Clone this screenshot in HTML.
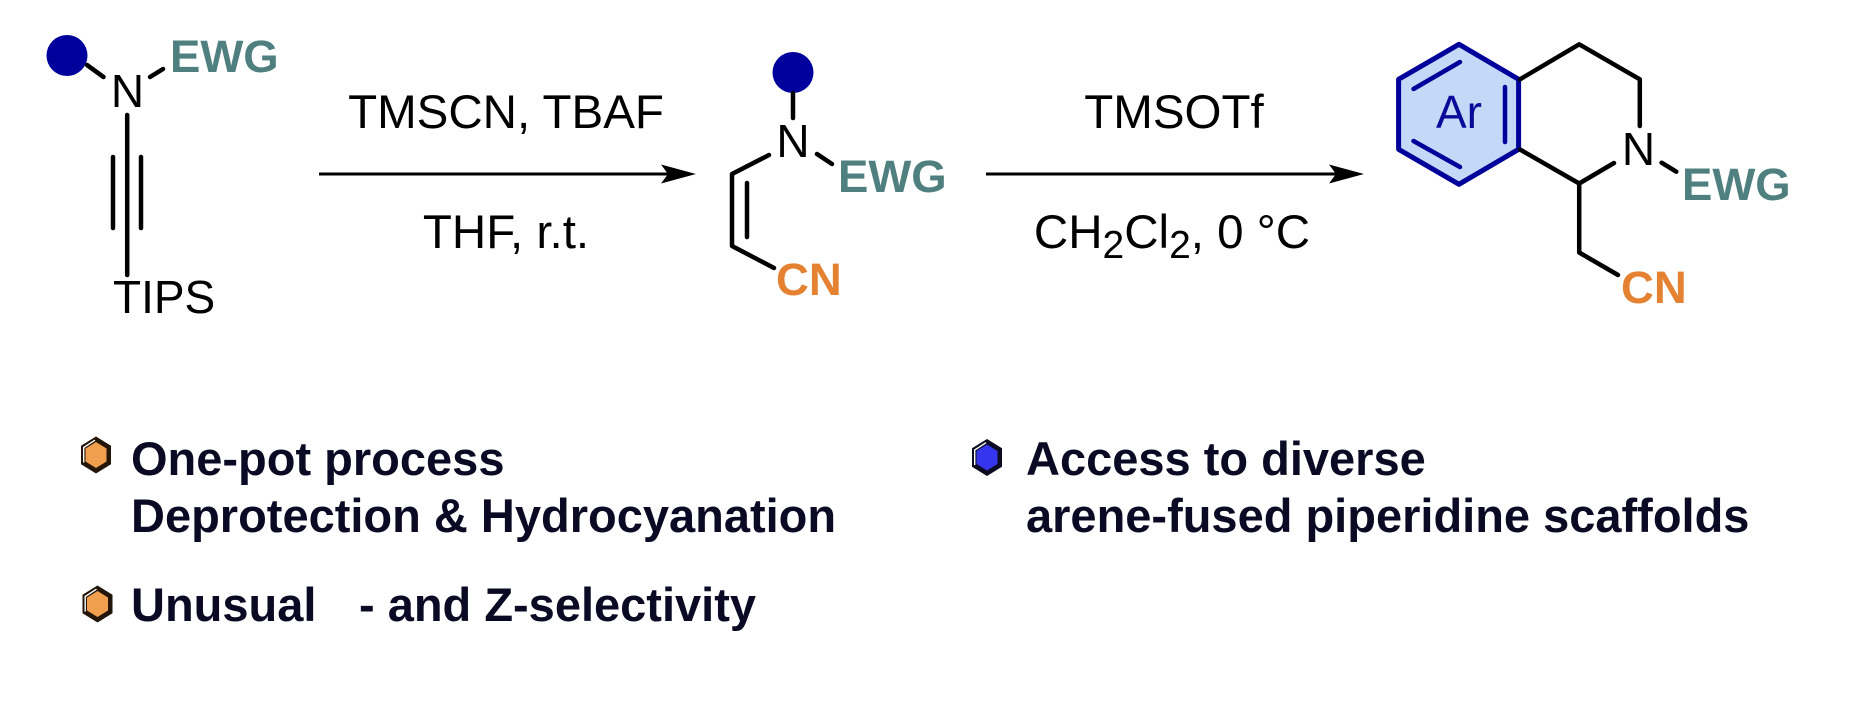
<!DOCTYPE html>
<html>
<head>
<meta charset="utf-8">
<style>
  html,body{margin:0;padding:0;background:#fff;}
  svg{display:block;}
  .lbl{font-family:"Liberation Sans",Arial,sans-serif;font-size:46px;fill:#000;}
  .rg{font-family:"Liberation Sans",Arial,sans-serif;font-size:47.5px;fill:#000;}
  .ewg{font-family:"Liberation Sans",Arial,sans-serif;font-size:45.5px;font-weight:bold;fill:#4F7F7F;}
  .cn{font-family:"Liberation Sans",Arial,sans-serif;font-size:45.5px;font-weight:bold;fill:#E58232;}
  .bt{font-family:"Liberation Sans",Arial,sans-serif;font-size:47px;font-weight:bold;fill:#0A0A24;}
</style>
</head>
<body>
<svg width="1874" height="714" viewBox="0 0 1874 714" xmlns="http://www.w3.org/2000/svg">
  <rect width="1874" height="714" fill="#fff"/>

  <!-- ===== Structure 1: ynamide ===== -->
  <circle cx="67" cy="55.5" r="20.5" fill="#00009C"/>
  <g stroke="#000" stroke-width="4.5" stroke-linecap="round" fill="none">
    <line x1="87" y1="65" x2="103.5" y2="77"/>
    <line x1="150" y1="77" x2="163" y2="69"/>
    <line x1="127.2" y1="115" x2="127.2" y2="275"/>
    <line x1="113" y1="157" x2="113" y2="228"/>
    <line x1="141" y1="157" x2="141" y2="228"/>
  </g>
  <text class="lbl" x="127.5" y="107" text-anchor="middle">N</text>
  <text class="ewg" x="170" y="72">EWG</text>
  <text class="lbl" x="113" y="313">TIPS</text>

  <!-- Arrow 1 -->
  <line x1="319" y1="174" x2="670" y2="174" stroke="#000" stroke-width="3"/>
  <polygon points="696,174 661,164.5 668,174 661,183.5" fill="#000"/>
  <text class="rg" x="506" y="128" text-anchor="middle">TMSCN, TBAF</text>
  <text class="rg" x="506" y="248" text-anchor="middle">THF, r.t.</text>

  <!-- ===== Structure 2: enamide ===== -->
  <circle cx="793" cy="72.5" r="20.5" fill="#00009C"/>
  <g stroke="#000" stroke-width="4.5" stroke-linecap="round" stroke-linejoin="round" fill="none">
    <line x1="793" y1="93" x2="793" y2="118"/>
    <polyline points="769,155 732,174 732,246 774,268"/>
    <line x1="747" y1="183" x2="747" y2="237"/>
    <line x1="817" y1="154" x2="832" y2="164"/>
  </g>
  <text class="lbl" x="793" y="157" text-anchor="middle">N</text>
  <text class="ewg" x="838" y="192">EWG</text>
  <text class="cn" x="776" y="295">CN</text>

  <!-- Arrow 2 -->
  <line x1="986" y1="174" x2="1338" y2="174" stroke="#000" stroke-width="3"/>
  <polygon points="1364,174 1329,164.5 1336,174 1329,183.5" fill="#000"/>
  <text class="rg" x="1174" y="128" text-anchor="middle">TMSOTf</text>
  <text class="rg" x="1172" y="248" text-anchor="middle">CH<tspan font-size="39" dy="10">2</tspan><tspan dy="-10">Cl</tspan><tspan font-size="39" dy="10">2</tspan><tspan dy="-10">, 0 °C</tspan></text>

  <!-- ===== Structure 3: tetrahydroisoquinoline ===== -->
  <polygon points="1459,44.3 1518.6,79.3 1518.6,149.3 1459,184.3 1398.6,149.3 1398.6,79.3"
           fill="#C4D8F7" stroke="#00009A" stroke-width="5" stroke-linejoin="round"/>
  <g stroke="#00009A" stroke-width="4.5" stroke-linecap="round">
    <line x1="1413.5" y1="89" x2="1460" y2="62"/>
    <line x1="1413.5" y1="141" x2="1460" y2="167"/>
    <line x1="1505" y1="87" x2="1505" y2="142"/>
  </g>
  <text x="1459" y="128" text-anchor="middle" font-family="Liberation Sans, Arial, sans-serif" font-size="46" fill="#0A0A9A">Ar</text>
  <g stroke="#000" stroke-width="4.5" stroke-linecap="round" stroke-linejoin="round" fill="none">
    <polyline points="1520,79.3 1579.2,44.3 1639.8,79.3 1639.8,126"/>
    <polyline points="1614,163 1579.2,183.5 1520,149.5"/>
    <polyline points="1579.2,183.5 1579.2,252.5 1618,275"/>
    <line x1="1661.6" y1="162.7" x2="1676.3" y2="171.7"/>
  </g>
  <text class="lbl" x="1638.5" y="165" text-anchor="middle">N</text>
  <text class="ewg" x="1682" y="200">EWG</text>
  <text class="cn" x="1621" y="303">CN</text>

  <!-- ===== Bullets ===== -->
  <g transform="translate(96,455)">
    <polygon points="0,-18.5 15,-9.25 15,9.25 0,18.5 -15,9.25 -15,-9.25" fill="#231508"/>
    <polygon points="0,-13 10.5,-6.5 10.5,6.5 0,13 -10.5,6.5 -10.5,-6.5" fill="#EF9F4D"/>
    <polyline points="-12.3,7.5 -12.3,-7.5 -1,-14.8" fill="none" stroke="#fff" stroke-width="1.4"/>
  </g>
  <g transform="translate(97.5,604)">
    <polygon points="0,-18.5 15,-9.25 15,9.25 0,18.5 -15,9.25 -15,-9.25" fill="#231508"/>
    <polygon points="0,-13 10.5,-6.5 10.5,6.5 0,13 -10.5,6.5 -10.5,-6.5" fill="#EF9F4D"/>
    <polyline points="-12.3,7.5 -12.3,-7.5 -1,-14.8" fill="none" stroke="#fff" stroke-width="1.4"/>
  </g>
  <g transform="translate(987,457.5)">
    <polygon points="0,-18.5 15,-9.25 15,9.25 0,18.5 -15,9.25 -15,-9.25" fill="#0B0B22"/>
    <polygon points="0,-13 10.5,-6.5 10.5,6.5 0,13 -10.5,6.5 -10.5,-6.5" fill="#3535EE"/>
    <polyline points="-12.3,7.5 -12.3,-7.5 -1,-14.8" fill="none" stroke="#fff" stroke-width="1.4"/>
  </g>

  <text class="bt" x="131" y="475">One-pot process</text>
  <text class="bt" x="131" y="532">Deprotection &amp; Hydrocyanation</text>
  <text class="bt" x="131" y="621">Unusual</text>
  <text class="bt" x="359" y="621">- and Z-selectivity</text>

  <text class="bt" x="1026" y="475">Access to diverse</text>
  <text class="bt" x="1026" y="532">arene-fused piperidine scaffolds</text>
</svg>
</body>
</html>
